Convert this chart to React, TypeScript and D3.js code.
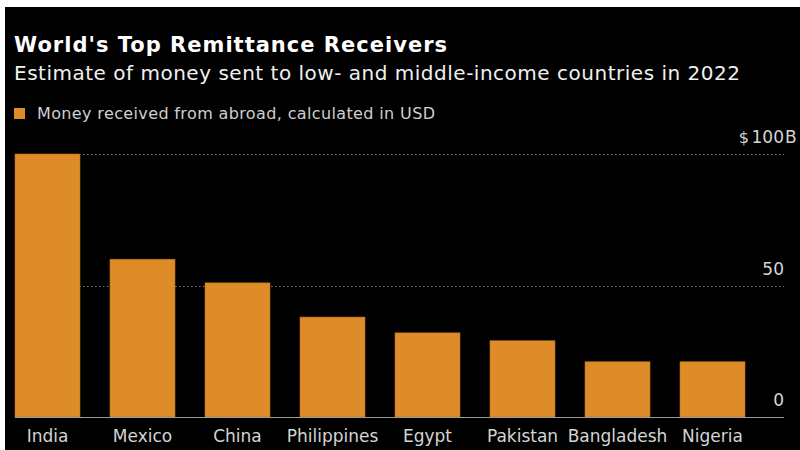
import React from "react";
import * as d3 from "d3";

const countries = ["India", "Mexico", "China", "Philippines", "Egypt", "Pakistan", "Bangladesh", "Nigeria"];
const received = [100, 60, 51, 38, 32, 29, 21, 21];
const yTicks = [0, 50, 100];

const W = 800;
const H = 450;
const FONT = "'DejaVu Sans', 'Noto Sans', sans-serif";

export default function App() {
  const x = d3
    .scaleBand<string>()
    .domain(countries)
    .range([15, 745])
    .paddingInner(30 / 95)
    .paddingOuter(0);
  const y = d3.scaleLinear().domain([0, 100]).range([417, 154]);
  const gridX0 = 15;
  const gridX1 = 784;

  return (
    <div style={{ position: "absolute", left: 0, top: 0, width: W, height: H }}>
      <svg width={W} height={H} style={{ display: "block" }} fontFamily={FONT}>
        <rect x={0} y={0} width={W} height={H} fill="#ffffff" />
        <rect x={5} y={7} width={W - 5} height={H - 7} fill="#000000" />

        <text x={14} y={52} fill="#ffffff" fontSize={21} fontWeight="bold" textLength={433} lengthAdjust="spacing">
          World's Top Remittance Receivers
        </text>
        <text x={14} y={80} fill="#f0f0f0" fontSize={20} textLength={726} lengthAdjust="spacing">
          Estimate of money sent to low- and middle-income countries in 2022
        </text>

        <rect x={14} y={108} width={11} height={11} fill="#dd8c27" />
        <text x={37} y={119} fill="#cfcfcf" fontSize={16} textLength={398} lengthAdjust="spacing">
          Money received from abroad, calculated in USD
        </text>

        {yTicks
          .filter((t) => t !== 0)
          .map((t) => (
            <line
              key={"g" + t}
              x1={gridX0}
              x2={gridX1}
              y1={Math.round(y(t)) + 0.5}
              y2={Math.round(y(t)) + 0.5}
              stroke="#7a7a7a"
              strokeWidth={1}
              strokeDasharray="1.5,2.5"
            />
          ))}

        {countries.map((c, i) => (
          <rect
            key={c}
            x={x(c)!}
            y={y(received[i])}
            width={x.bandwidth()}
            height={y(0) - y(received[i])}
            fill="#dd8c27"
            stroke="#b86f1c"
            strokeWidth={0.6}
          />
        ))}

        <line x1={gridX0} x2={gridX1} y1={417.5} y2={417.5} stroke="#9a9a9a" strokeWidth={1.2} />

        {yTicks.map((t) => (
          <g key={"t" + t}>
            <text
              x={784}
              y={y(t) - 11}
              textAnchor="end"
              fill="#d4d4d4"
              fontSize={17}
            >
              {t}
            </text>
            {t === 100 && (
              <>
                <text x={785} y={y(t) - 11} fill="#d4d4d4" fontSize={17}>
                  B
                </text>
                <text x={749} y={y(t) - 11} textAnchor="end" fill="#d4d4d4" fontSize={16}>
                  $
                </text>
              </>
            )}
          </g>
        ))}

        {countries.map((c) => (
          <text
            key={"l" + c}
            x={x(c)! + x.bandwidth() / 2}
            y={442}
            textAnchor="middle"
            fill="#d4d4d4"
            fontSize={17}
          >
            {c}
          </text>
        ))}
      </svg>
    </div>
  );
}
